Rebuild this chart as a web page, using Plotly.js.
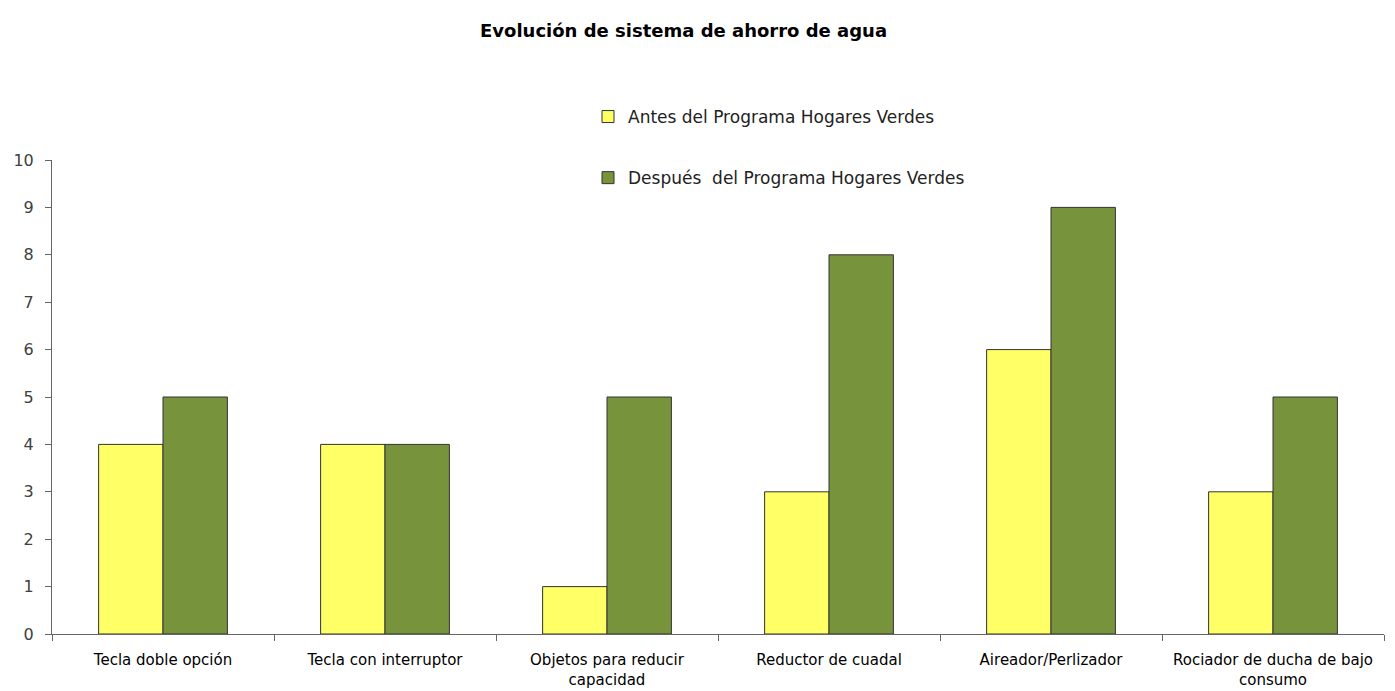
<!DOCTYPE html>
<html>
<head>
<meta charset="utf-8">
<script src="https://cdn.plot.ly/plotly-3.0.1.min.js"></script>
<style>html,body{margin:0;padding:0;background:#fff;}#chart{width:1395px;height:691px;}</style>
</head>
<body>
<div id="chart"></div>
<script>
const categories = ["Tecla doble opción", "Tecla con interruptor", "Objetos para reducir<br>capacidad", "Reductor de cuadal", "Aireador/Perlizador", "Rociador de ducha de bajo<br>consumo"];
const antes = [4, 4, 1, 3, 6, 3];
const despues = [5, 4, 5, 8, 9, 5];
const seriesNames = ["Antes del Programa Hogares Verdes", "Después  del Programa Hogares Verdes"];
const yTicks = [0,1,2,3,4,5,6,7,8,9,10];

const fontFam = "'DejaVu Sans', sans-serif";
const traces = [
  {type:"bar", name:seriesNames[0], x:categories, y:antes, legendgroup:"a",
   marker:{color:"#FFFF66", line:{color:"#333", width:1}}, hoverinfo:"y"},
  {type:"bar", name:seriesNames[1], x:categories, y:despues, legendgroup:"b",
   marker:{color:"#77933C", line:{color:"#333", width:1}}, hoverinfo:"y"}
];
const layout = {
  width:1395, height:691,
  paper_bgcolor:"#fff", plot_bgcolor:"#fff",
  margin:{l:52, r:11, t:160, b:57, autoexpand:false},
  title:{text:"<b>Evolución de sistema de ahorro de agua</b>", x:0.49, xref:"container", y:0.955, yref:"container", yanchor:"middle",
         font:{family:fontFam, size:18, color:"#000"}},
  barmode:"group", bargap:0.42, bargroupgap:0,
  showlegend:true,
  legend:{x:(588-52)/1332, xref:"paper", y:1+(160-99)/474, yref:"paper", yanchor:"top", xanchor:"left",
          font:{family:fontFam, size:17, color:"#222"}, tracegroupgap:36, traceorder:"grouped", bgcolor:"rgba(0,0,0,0)"},
  xaxis:{type:"category", tickson:"boundaries", ticks:"outside", ticklen:6, tickcolor:"#666", tickangle:0,
         showline:true, linecolor:"#666", linewidth:1, showgrid:false, zeroline:false,
         tickfont:{family:fontFam, size:15, color:"#000"}, automargin:false, ticklabelstandoff:12},
  yaxis:{range:[0,10], tickvals:yTicks, ticks:"outside", ticklen:6, tickcolor:"#666",
         showline:true, linecolor:"#666", linewidth:1, showgrid:false, zeroline:false,
         tickfont:{family:fontFam, size:16, color:"#404040"}, automargin:false, ticklabelstandoff:8}
};
Plotly.newPlot("chart", traces, layout, {displayModeBar:false, staticPlot:true});
</script>
</body>
</html>
